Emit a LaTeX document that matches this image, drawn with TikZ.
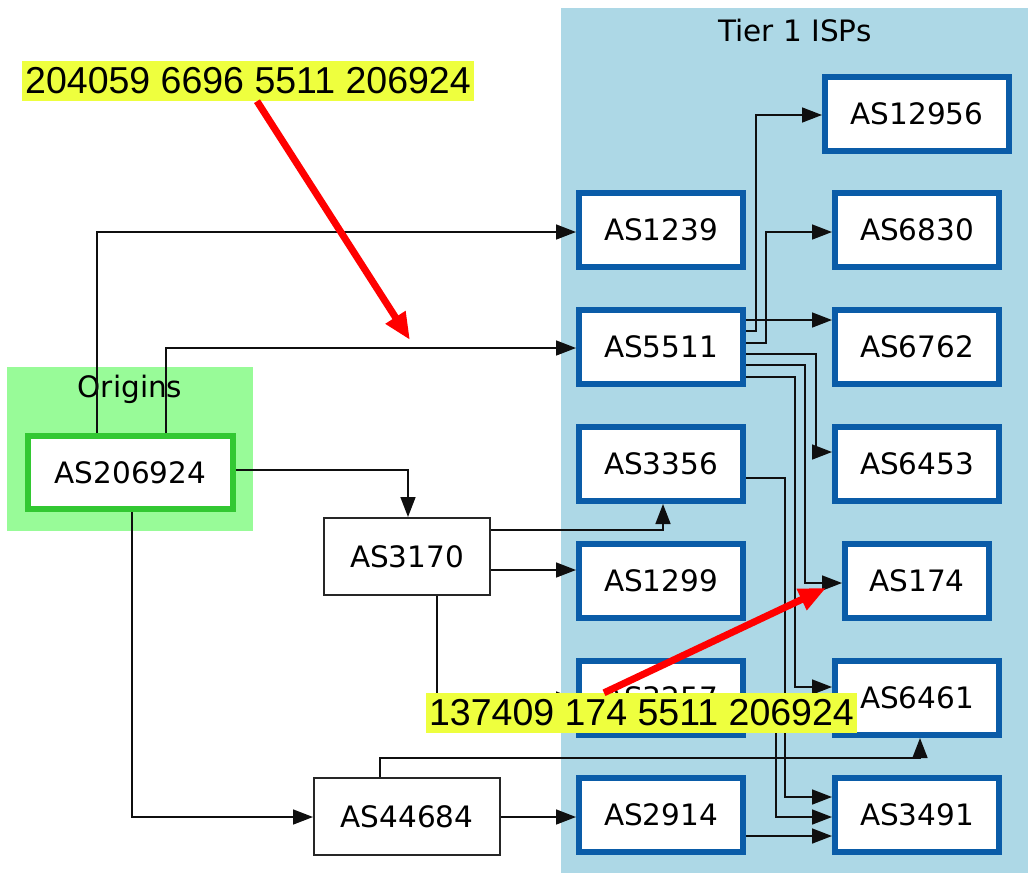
\documentclass[tikz,border=0pt]{standalone}
\usepackage{fontspec}
\setmainfont{DejaVu Sans}
\newfontfamily\arialf{Liberation Sans}
\usetikzlibrary{arrows.meta}
\definecolor{tierblue}{RGB}{10,92,168}
\definecolor{clusterblue}{RGB}{173,216,230}
\definecolor{clustergreen}{RGB}{152,251,152}
\definecolor{origgreen}{RGB}{50,200,50}
\definecolor{hlyellow}{RGB}{238,255,62}
\definecolor{edgegray}{RGB}{15,15,15}
\begin{document}
\begin{tikzpicture}[x=1pt,y=-1pt,
  lbl/.style={font=\fontsize{29.5}{35}\selectfont, inner sep=0},
  tier/.style={draw=tierblue, line width=6pt, fill=white, minimum width=164pt, minimum height=74pt, inner sep=0, font=\fontsize{29.5}{35}\selectfont},
  origin/.style={draw=origgreen, line width=6pt, fill=white, minimum width=205pt, minimum height=73pt, inner sep=0, font=\fontsize{29.5}{35}\selectfont},
  plainbox/.style={draw=black!85, line width=2pt, fill=white, minimum height=77pt, inner sep=0, font=\fontsize{29.5}{35}\selectfont},
  edge/.style={draw=edgegray, line width=1.6pt, -{Triangle[length=20pt,width=15pt]}},
  hl/.style={fill=hlyellow, inner xsep=3pt, inner ysep=0, minimum height=40pt, font=\arialf\fontsize{37.5}{40}\selectfont, text=black},
  redarrow/.style={draw=red, line width=7pt, -{Triangle[length=27pt,width=22pt]}}
]
\useasboundingbox (0,0) rectangle (1028,873);
% clusters
\fill[clusterblue] (561,8) rectangle (1028,873);
\node[lbl] (tierlbl) at (795,31) {Tier 1 ISPs};
\fill[clustergreen] (7,367) rectangle (253,531);
\node[lbl] (originlbl) at (130,389) {Origins};
% nodes
\node[tier, minimum width=184pt] (AS12956) at (917,114) {AS12956};
\node[tier] (AS1239) at (661,230) {AS1239};
\node[tier] (AS6830) at (917,230) {AS6830};
\node[tier] (AS5511) at (661,347) {AS5511};
\node[tier] (AS6762) at (917,347) {AS6762};
\node[tier] (AS3356) at (661,464) {AS3356};
\node[tier] (AS6453) at (917,464) {AS6453};
\node[tier] (AS1299) at (661,581) {AS1299};
\node[tier, minimum width=144pt] (AS174) at (917,581) {AS174};
\node[tier] (AS3257) at (661,698) {AS3257};
\node[tier] (AS6461) at (917,698) {AS6461};
\node[tier] (AS2914) at (661,815) {AS2914};
\node[tier] (AS3491) at (917,815) {AS3491};
\node[origin] (AS206924) at (130.5,472.5) {AS206924};
\node[plainbox, minimum width=166pt] (AS3170) at (407,556.5) {AS3170};
\node[plainbox, minimum width=186pt] (AS44684) at (407,816.5) {AS44684};
% edges
\draw[edge] (AS206924.north -| 97,0) |- (AS1239.west |- 0,232);
\draw[edge] (AS206924.north -| 166,0) |- (AS5511.west |- 0,348);
\draw[edge] (AS206924.east |- 0,470) -| (AS3170.north -| 408,0);
\draw[edge] (AS206924.south -| 132,0) |- (AS44684.west |- 0,817);
\draw[edge] (AS3170.east |- 0,530) -| (AS3356.south -| 663,0);
\draw[edge] (AS3170.east |- 0,570) -- (AS1299.west |- 0,570);
\draw[edge] (AS3170.south -| 437,0) |- (AS3257.west |- 0,699);
\draw[edge] (AS44684.north -| 380,0) |- (920,758) -- (AS6461.south -| 920,0);
\draw[edge] (AS44684.east |- 0,817) -- (AS2914.west |- 0,817);
\draw[edge] (AS5511.east |- 0,320) -- (AS6762.west |- 0,320);
\draw[edge] (AS5511.east |- 0,331) -| (756,115) -- (AS12956.west |- 0,115);
\draw[edge] (AS5511.east |- 0,343) -| (766,232) -- (AS6830.west |- 0,232);
\draw[edge] (AS5511.east |- 0,354) -| (816,452) -- (AS6453.west |- 0,452);
\draw[edge] (AS5511.east |- 0,365) -| (805,583) -- (AS174.west |- 0,583);
\draw[edge] (AS5511.east |- 0,377) -| (795,687) -- (AS6461.west |- 0,687);
\draw[edge] (AS3356.east |- 0,478) -| (785,797) -- (AS3491.west |- 0,797);
\draw[edge] (AS3257.east |- 0,712) -| (776,817) -- (AS3491.west |- 0,817);
\draw[edge] (AS2914.east |- 0,836) -- (AS3491.west |- 0,836);
% highlights
\node[hl] (path1) at (248,81) {204059 6696 5511 206924};
\node[hl] (path2) at (641.5,713) {137409 174 5511 206924};
\coordinate (r1end) at (410,340);
\coordinate (r2end) at (826,588);
\draw[redarrow] (path1.south -| 257,0) -- (r1end);
\draw[redarrow] (path2.north -| 604,0) -- (r2end);
\end{tikzpicture}
\end{document}
